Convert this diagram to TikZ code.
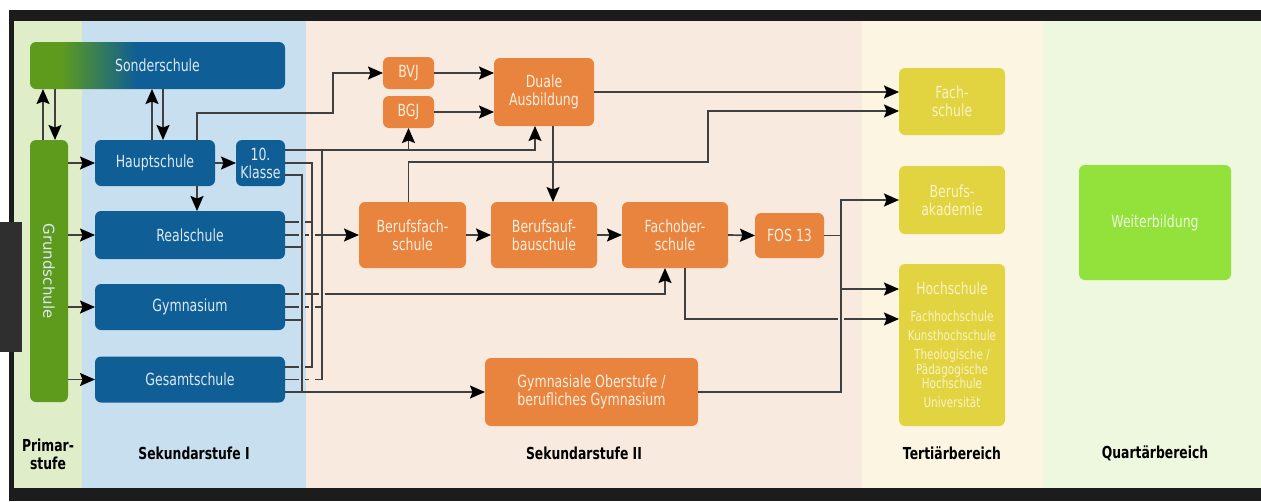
\documentclass[tikz,border=0pt]{standalone}
\usepackage{fontspec}
\setmainfont{DejaVu Sans}[FakeStretch=0.75]
\newfontfamily\grundfont{DejaVu Sans}
\usetikzlibrary{arrows.meta}

\definecolor{rahmen}{HTML}{1C1C1C}
\definecolor{reiter}{HTML}{2F2F2F}
\definecolor{primbg}{HTML}{DFEEC9}
\definecolor{sekAbg}{HTML}{C8DFF0}
\definecolor{sekBbg}{HTML}{F9EAE0}
\definecolor{terbg}{HTML}{FCF5E2}
\definecolor{quabg}{HTML}{EEF8DF}
\definecolor{schulblau}{HTML}{0F5E95}
\definecolor{schulgruen}{HTML}{5E9B1D}
\definecolor{beruforange}{HTML}{E9843E}
\definecolor{hochgelb}{HTML}{E2D340}
\definecolor{weitergruen}{HTML}{93E23B}
\definecolor{blautext}{HTML}{DCEAF4}
\definecolor{orangetext}{HTML}{FDEDDF}
\definecolor{gelbtext}{HTML}{F9F3C6}
\definecolor{gruentext}{HTML}{EDF9DD}
\definecolor{linie}{HTML}{404040}

% green to blue for the Sonderschule (inner 50bp cover the box)
\pgfdeclarehorizontalshading{sonderverlauf}{100bp}{color(0bp)=(schulgruen); color(31bp)=(schulgruen); color(46bp)=(schulblau); color(100bp)=(schulblau)}

\tikzset{
  box/.style={rounded corners=6pt, align=center, inner sep=2pt, outer sep=0pt,
    font=\fontsize{16.7}{18}\selectfont},
  blau/.style={box, fill=schulblau, text=blautext},
  gruen/.style={box, fill=schulgruen, text=blautext},
  orange/.style={box, fill=beruforange, text=orangetext},
  gelb/.style={box, fill=hochgelb, text=gelbtext},
  weiter/.style={box, fill=weitergruen, text=gruentext},
  stufe/.style={font=\bfseries\fontsize{16.5}{18}\selectfont, align=center, text=black},
  line/.style={draw=linie, line width=1.7pt},
  arr/.style={line, -{Stealth[length=15pt,width=13pt,inset=2.5pt,color=black]}}
}

\begin{document}
\begin{tikzpicture}[x=1pt,y=-1pt]
\useasboundingbox (0,0) rectangle (1261,501);
% frame and bands
\fill[white] (0,0) rectangle (1261,501);
\fill[rahmen] (9,10) rectangle (1261,501);
\fill[primbg] (14,21) rectangle (82,488);
\fill[sekAbg] (82,21) rectangle (306,488);
\fill[sekBbg] (306,21) rectangle (862,488);
\fill[terbg] (862,21) rectangle (1043,488);
\fill[quabg] (1043,21) rectangle (1261,488);
\fill[reiter] (0,222) rectangle (22,352);

% Primarstufe / Sekundarstufe I
\node[box, shade, shading=sonderverlauf, text=blautext, minimum width=255pt, minimum height=47pt] (sonder) at (157.5,65.5) {Sonderschule};
\node[gruen, minimum width=38pt, minimum height=262pt] (grund) at (49,271) {\rotatebox{-90}{\grundfont\fontsize{15}{18}\selectfont Grundschule}};
\node[blau, minimum width=120pt, minimum height=46pt] (haupt) at (155,163) {Hauptschule};
\node[blau, minimum width=49pt, minimum height=46pt, inner sep=0pt] (klasse) at (260.5,163) {10.\\Klasse};
\node[blau, minimum width=190pt, minimum height=48pt] (real) at (190,235) {Realschule};
\node[blau, minimum width=190pt, minimum height=46pt] (gym) at (190,307) {Gymnasium};
\node[blau, minimum width=190pt, minimum height=46pt] (gesamt) at (190,379.5) {Gesamtschule};

% Sekundarstufe II
\node[orange, minimum width=51pt, minimum height=32pt] (bvj) at (408.5,73) {BVJ};
\node[orange, minimum width=51pt, minimum height=32pt] (bgj) at (408.5,112) {BGJ};
\node[orange, minimum width=100pt, minimum height=68pt] (duale) at (544,92) {Duale\\Ausbildung};
\node[orange, minimum width=107pt, minimum height=66pt] (bfs) at (412.5,235) {Berufsfach-\\schule};
\node[orange, minimum width=106pt, minimum height=66pt] (bas) at (544,235) {Berufsauf-\\bauschule};
\node[orange, minimum width=106pt, minimum height=66pt] (fos) at (675,235) {Fachober-\\schule};
\node[orange, minimum width=69pt, minimum height=45pt] (fos13) at (789.5,235.5) {FOS 13};
\node[orange, minimum width=213pt, minimum height=68pt] (gymob) at (591.5,392) {Gymnasiale Oberstufe /\\berufliches Gymnasium};

% Tertiaer- und Quartaerbereich
\node[gelb, minimum width=106pt, minimum height=67pt] (fach) at (952,101.5) {Fach-\\schule};
\node[gelb, minimum width=106pt, minimum height=68pt] (bakad) at (952,200) {Berufs-\\akademie};
\node[gelb, minimum width=106pt, minimum height=162pt, font=\fontsize{13.9}{12.5}\selectfont] (hoch) at (952,345)
  {{\fontsize{16.4}{15}\selectfont Hochschule}\\[14pt]Fachhochschule\\[6.5pt]Kunsthochschule\\[7pt]Theologische /\\Pädagogische\\Hochschule\\[6.5pt]Universität};
\node[weiter, minimum width=152pt, minimum height=115pt] (weiter) at (1155,222.5) {Weiterbildung};

% labels
\node[stufe] (lprim) at (48,454) {Primar-\\stufe};
\node[stufe] (lsek1) at (194,453) {Sekundarstufe I};
\node[stufe] (lsek2) at (584,453) {Sekundarstufe II};
\node[stufe] (lter) at (952,453) {Tertiärbereich};
\node[stufe] (lqua) at (1155,453) {Quartärbereich};

% bus coordinates
\coordinate (bus1) at (302,0);
\coordinate (bus2) at (312,0);
\coordinate (bus3) at (322,0);
\coordinate (bus4) at (841,0);
\coordinate (k150) at ([yshift=13pt]klasse.east);

% Sonderschule
\draw[arr] ([xshift=-6pt]grund.north) -- ([xshift=-6pt]grund.north |- sonder.south);
\draw[arr] ([xshift=6pt]grund.north |- sonder.south) -- ([xshift=6pt]grund.north);
\draw[arr] ([xshift=-3pt]haupt.north) -- ([xshift=-3pt]haupt.north |- sonder.south);
\draw[arr] ([xshift=8pt]haupt.north |- sonder.south) -- ([xshift=8pt]haupt.north);

% Grundschule
\foreach \s in {haupt,real,gym,gesamt}
  \draw[arr] (grund.east |- \s.west) -- (\s.west);

% Hauptschule
\draw[arr] (haupt.east) -- (klasse.west);
\draw[arr] ([xshift=42pt]haupt.south) -- ([xshift=42pt]haupt.south |- real.north);
\draw[arr] ([xshift=42pt]haupt.north) |- (333,113) |- (bvj.west);

% buses Sek I -> Sek II
\draw[line] ([yshift=-12pt]klasse.east) -| ([yshift=-12.5pt]gesamt.east -| bus1);
\draw[line] (klasse.east) -| ([yshift=12.5pt]gesamt.east -| bus2) -- ++(-7,0) ++(-6,0) -- ([yshift=12.5pt]gesamt.east);
\draw[line] (bus3 |- k150) -- (bus3 |- gesamt.east) -- ++(-7,0) ++(-6,0) -- ++(-4,0) ++(-6,0) -- (gesamt.east);
\draw[arr] (gymob.west -| gesamt.east) -- (gymob.west);
\draw[line] ([yshift=13pt]real.east) -- ++(14,0) ++(6,0) -- ++(7,0);
\draw[arr] (real.east) -- ++(14,0) ++(6,0) -- ++(4,0) ++(6,0) -- (bfs.west);
\draw[line] ([yshift=-12pt]real.east) -- ++(17,0);
\draw[arr] ([yshift=13pt]gym.east) -- ++(14,0) ++(6,0) -- ++(14,0) ++(6,0) -| ([xshift=-10pt]fos.south);
\draw[line] (gym.east) -- ++(14,0) ++(6,0) -- ++(4,0) ++(6,0) -- ++(7,0);
\draw[line] ([yshift=-13pt]gym.east) -- ++(17,0);
\draw[arr] (k150) -| ([xshift=-9pt]duale.south);
\draw[arr] (bgj.south |- k150) -- (bgj.south);

% Sekundarstufe II
\draw[arr] (bvj.east) -- (bvj.east -| duale.west);
\draw[arr] (bgj.east) -- (bgj.east -| duale.west);
\draw[arr] (duale.east) -- (duale.east -| fach.west);
\draw[arr] ([xshift=9pt]duale.south) -- ([xshift=9pt]duale.south |- bas.north);
\draw[arr] (bgj.south |- bfs.north) |- (708,162) |- ([yshift=-9.5pt]fach.west);
\draw[arr] (bfs.east) -- (bas.west);
\draw[arr] (bas.east) -- (fos.west);
\draw[arr] (fos.east) -- (fos13.west);

% Tertiaerbereich
\draw[line] (fos13.east) -| (bus4 |- gymob.east) -- (gymob.east);
\draw[arr] (bus4 |- fos13.east) |- (bakad.west);
\draw[arr] ([yshift=56pt]hoch.west -| bus4) -- ([yshift=56pt]hoch.west);
\draw[arr] ([xshift=10pt]fos.south) |- ([xshift=-3pt,yshift=26pt]hoch.west -| bus4) ++(6,0) -- ([yshift=26pt]hoch.west);
\end{tikzpicture}
\end{document}
